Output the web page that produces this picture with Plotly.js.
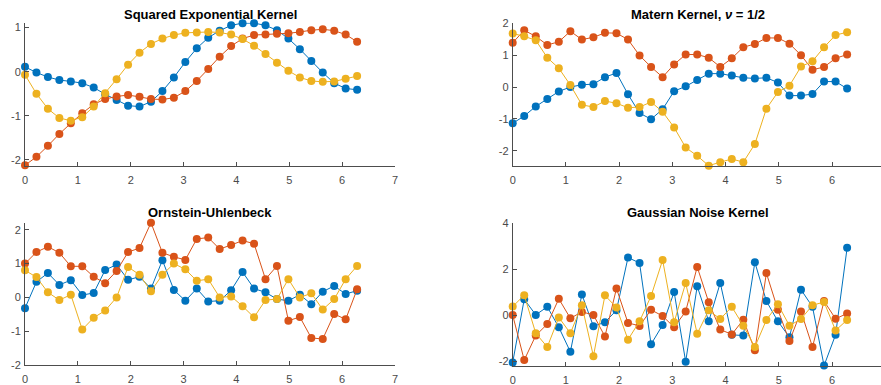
<!DOCTYPE html>
<html><head><meta charset="utf-8">
<script src="https://cdn.plot.ly/plotly-3.0.1.min.js"></script>
<style>html,body{margin:0;padding:0;background:#fff}#c{width:881px;height:385px}</style>
</head><body><div id="c"></div>
<script>
const xs = [0, 0.2167, 0.4333, 0.6500, 0.8666, 1.0833, 1.3000, 1.5166, 1.7333, 1.9500, 2.1666, 2.3833, 2.5999, 2.8166, 3.0333, 3.2499, 3.4666, 3.6832, 3.8999, 4.1166, 4.3332, 4.5499, 4.7666, 4.9832, 5.1999, 5.4166, 5.6332, 5.8499, 6.0665, 6.2832];

const seBlue   = [0.11,-0.02,-0.12,-0.19,-0.22,-0.26,-0.36,-0.51,-0.64,-0.77,-0.79,-0.68,-0.44,-0.13,0.22,0.53,0.77,0.93,1.05,1.10,1.10,1.05,0.94,0.75,0.51,0.24,-0.02,-0.26,-0.38,-0.41];
const seOrange = [-2.12,-1.93,-1.68,-1.41,-1.17,-0.94,-0.74,-0.62,-0.56,-0.53,-0.57,-0.62,-0.63,-0.59,-0.44,-0.21,0.06,0.34,0.58,0.75,0.83,0.84,0.86,0.87,0.90,0.94,0.96,0.93,0.84,0.68];
const seYellow = [-0.07,-0.50,-0.84,-1.05,-1.11,-1.03,-0.79,-0.49,-0.17,0.16,0.43,0.63,0.75,0.83,0.88,0.89,0.90,0.89,0.84,0.74,0.59,0.40,0.20,0.02,-0.13,-0.21,-0.23,-0.22,-0.16,-0.10];

const maBlue   = [-1.14,-0.91,-0.61,-0.38,-0.14,0.00,0.07,0.09,0.31,0.44,-0.23,-0.82,-1.01,-0.70,-0.13,0.02,0.22,0.42,0.42,0.36,0.29,0.27,0.29,0.14,-0.27,-0.27,-0.22,0.17,0.17,-0.05];
const maOrange = [1.39,1.78,1.59,1.32,1.42,1.75,1.49,1.56,1.70,1.69,1.49,0.99,0.63,0.31,0.71,1.02,1.02,0.92,0.63,0.90,1.25,1.35,1.54,1.54,1.36,1.00,0.54,0.63,0.90,1.02];
const maYellow = [1.68,1.59,1.47,0.92,0.59,0.06,-0.56,-0.63,-0.44,-0.51,-0.65,-0.63,-0.47,-0.78,-1.27,-1.90,-2.16,-2.47,-2.36,-2.26,-2.36,-1.79,-0.68,-0.16,0.04,0.64,0.81,1.25,1.63,1.72];

const ouBlue   = [-0.32,0.46,0.72,0.37,0.51,0.07,0.13,0.81,0.97,0.52,0.61,0.26,1.10,0.22,-0.10,0.26,-0.12,-0.10,0.21,0.75,0.26,0.15,-0.05,-0.10,0.08,-0.20,0.17,0.34,0.10,0.20];
const ouOrange = [1.00,1.34,1.50,1.32,0.92,0.92,0.61,0.42,0.78,1.34,1.46,2.21,1.32,1.20,1.11,1.73,1.77,1.43,1.55,1.68,1.59,0.54,0.93,-0.69,-0.58,-1.20,-1.23,-0.49,-0.65,0.24];
const ouYellow = [0.80,0.60,0.15,-0.08,0.08,-0.95,-0.60,-0.39,0.00,0.90,0.67,0.18,0.67,1.00,0.83,0.49,0.54,0.00,0.03,-0.26,-0.59,-0.08,-0.05,0.54,0.00,0.12,-0.36,-0.05,0.54,0.93];

const gnBlue   = [-2.06,0.69,0.01,0.36,-0.53,-1.60,0.90,-0.49,-0.31,0.21,2.51,2.27,-1.27,-0.43,1.01,-2.03,1.26,-0.27,1.40,-0.86,-0.89,2.30,0.61,-0.27,-0.96,1.11,0.36,-2.20,-0.86,2.93];
const gnOrange = [0.00,-1.96,-0.89,-0.39,0.71,-0.14,0.14,0.01,-0.93,1.16,-0.34,-0.47,0.23,-0.04,-0.53,0.16,2.10,0.56,-0.63,-0.84,-0.20,-1.53,1.83,0.23,-1.13,0.16,-1.39,0.61,-0.16,0.07];
const gnYellow = [0.37,0.87,-0.79,-1.39,-0.10,-0.79,0.43,-1.79,0.86,0.33,-1.07,-0.27,0.83,2.40,-0.31,1.40,-0.81,0.21,-0.17,0.36,-0.46,-1.39,-0.21,0.47,-0.46,-0.17,0.43,0.57,-0.67,-0.21];

const titles = ["Squared Exponential Kernel", "Matern Kernel, <i>ν</i> = 1/2", "Ornstein-Uhlenbeck", "Gaussian Noise Kernel"];
const colors = ["#0072BD", "#D95319", "#EDB120"];
const xTicksLeft = [0,1,2,3,4,5,6,7];
const xTicksRight = [0,1,2,3,4,5,6];

const W = 881, H = 385;
const panels = [
  {series:[seBlue,seOrange,seYellow], ax:'', xr:[0,7], yr:[-2.13,1.11], px:[25,395], py:[22.7,165.7], xt:xTicksLeft, yt:[-2,-1,0,1]},
  {series:[maBlue,maOrange,maYellow], ax:'2', xr:[0,6.92], yr:[-2.48,2], px:[512.7,881], py:[23.3,166], xt:xTicksRight, yt:[-2,-1,0,1,2]},
  {series:[ouBlue,ouOrange,ouYellow], ax:'3', xr:[0,7], yr:[-2,2.21], px:[25,395], py:[222.7,365], xt:xTicksLeft, yt:[-2,-1,0,1,2]},
  {series:[gnBlue,gnOrange,gnYellow], ax:'4', xr:[0,6.92], yr:[-2.2,4], px:[512.7,881], py:[223.3,365.6], xt:xTicksRight, yt:[-2,0,2,4]}
];

const lab = v => String(v);  // plain hyphen-minus as in the reference
const traces = [];
const layout = {width:W, height:H, margin:{l:0,r:0,t:0,b:0}, paper_bgcolor:'#fff', plot_bgcolor:'rgba(0,0,0,0)', showlegend:false,
  font:{family:'Liberation Sans, Arial, sans-serif', size:11, color:'#4a4a4a'}, annotations:[]};

panels.forEach((p,k)=>{
  p.series.forEach((s,j)=>{
    traces.push({x:xs, y:s, type:'scatter', mode:'lines+markers', xaxis:'x'+p.ax, yaxis:'y'+p.ax, cliponaxis:false,
      line:{color:colors[j], width:1}, marker:{color:colors[j], size:8}, hoverinfo:'skip'});
  });
  const axCommon = {showgrid:false, zeroline:false, showline:true, linecolor:'#4d4d4d', linewidth:1,
    ticks:'inside', ticklen:4, tickcolor:'#4d4d4d', tickfont:{size:11, color:'#4a4a4a'}, mirror:false, fixedrange:true};
  layout['xaxis'+p.ax] = Object.assign({}, axCommon, {domain:[p.px[0]/W, p.px[1]/W], range:p.xr, tickvals:p.xt, ticktext:p.xt.map(lab), anchor:'y'+p.ax, ticklabelstandoff:4});
  layout['yaxis'+p.ax] = Object.assign({}, axCommon, {domain:[1-p.py[1]/H, 1-p.py[0]/H], range:p.yr, tickvals:p.yt, ticktext:p.yt.map(lab), anchor:'x'+p.ax, ticklabelstandoff:1});
  const cx = k%2===0 ? (25+395)/2 : (512.7+884)/2;
  const cy = k<2 ? 14 : 213;
  layout.annotations.push({text:'<b>'+titles[k]+'</b>', xref:'paper', yref:'paper', x:cx/W, y:1-cy/H, xanchor:'center', yanchor:'middle', showarrow:false,
    font:{size:13, color:'#000', family:'Liberation Sans, Arial, sans-serif'}});
});

Plotly.newPlot('c', traces, layout, {staticPlot:true, displayModeBar:false});
</script></body></html>
